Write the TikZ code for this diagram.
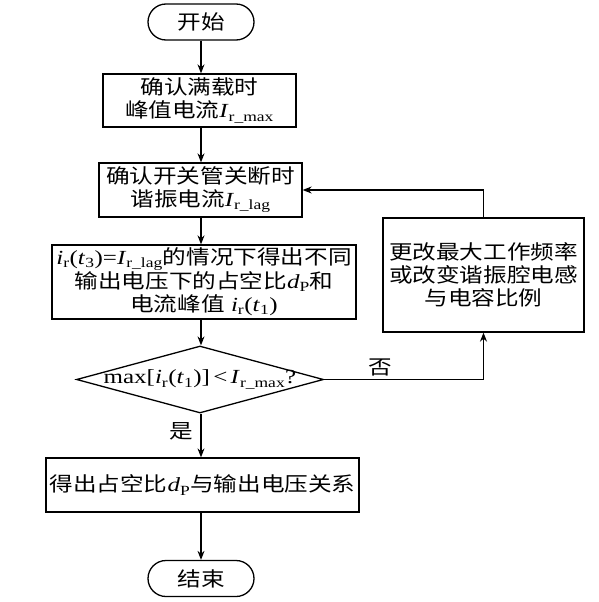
\documentclass[tikz,border=0pt]{standalone}
\usepackage{fontspec}
\setmainfont{Liberation Serif}[FakeStretch=1.25]
\newfontfamily\cjk{Noto Sans CJK SC}[FakeStretch=1.18]
\usetikzlibrary{shapes.geometric,arrows.meta}
\newcommand\zh[1]{{\cjk #1}}
\newcommand\sbs[1]{\textsubscript{#1}}
\begin{document}
\begin{tikzpicture}[x=1pt,y=-1pt,
  every node/.style={font=\fontsize{20}{23}\selectfont},
  term/.style={draw,line width=1.3pt,rounded corners=18pt,minimum width=106pt,minimum height=36pt,inner sep=0pt},
  proc/.style={draw,line width=1.3pt,inner sep=0pt,align=center},
  dec/.style={draw,line width=1.3pt,diamond,inner sep=0pt,minimum width=247pt,minimum height=67pt},
  arr/.style={line width=1.2pt,-{Stealth[length=9pt,width=7pt]}},
  lbl/.style={inner sep=1pt}]
\useasboundingbox (0,0) rectangle (598,602);
\node[term] (start) at (201,22) {\zh{开始}};
\node[proc,minimum width=193pt,minimum height=53pt] (b1) at (199.5,100.5)
  {\zh{确认满载时}\\\zh{峰值电流}\textit{I}\sbs{r\_max}};
\node[proc,minimum width=203pt,minimum height=54pt] (b2) at (200.5,190)
  {\zh{确认开关管关断时}\\\zh{谐振电流}\textit{I}\sbs{r\_lag}};
\node[proc,minimum width=304pt,minimum height=74pt] (b3) at (204,282)
  {\textit{i}\sbs{r}(\textit{t}\sbs{3})=\textit{I}\sbs{r\_lag}\zh{的情况下得出不同}\\
   \zh{输出电压下的占空比}\textit{d}\sbs{P}\zh{和}\\
   \zh{电流峰值} \textit{i}\sbs{r}(\textit{t}\sbs{1})};
\node[dec] (d) at (200,379.5) {};
\node[inner sep=0pt] (dtxt) at (d.center)
  {max[\textit{i}\sbs{r}(\textit{t}\sbs{1})]\,<\,\textit{I}\sbs{r\_max}?};
\node[proc,minimum width=201pt,minimum height=114pt] (chg) at (483.5,275)
  {\zh{更改最大工作频率}\\\zh{或改变谐振腔电感}\\\zh{与电容比例}};
\node[proc,minimum width=313pt,minimum height=54pt] (b4) at (202.5,485)
  {\zh{得出占空比}\textit{d}\sbs{P}\zh{与输出电压关系}};
\node[term] (end) at (201,578.5) {\zh{结束}};
\draw[arr] (start.south) -- (start.south |- b1.north);
\draw[arr] (start.south |- b1.south) -- (start.south |- b2.north);
\draw[arr] (start.south |- b2.south) -- (start.south |- b3.north);
\draw[arr] (start.south |- b3.south) -- (start.south |- d.north);
\draw[arr] (start.south |- d.south) -- node[lbl,pos=0.4,left=6pt]{\zh{是}} (start.south |- b4.north);
\draw[arr] (start.south |- b4.south) -- (end.north);
\draw[arr] (d.east) -- node[lbl,pos=0.35,above=2pt]{\zh{否}} (d.east -| chg.south) -- (chg.south);
\draw[arr] (chg.north) |- (b2.east);
\end{tikzpicture}
\end{document}
